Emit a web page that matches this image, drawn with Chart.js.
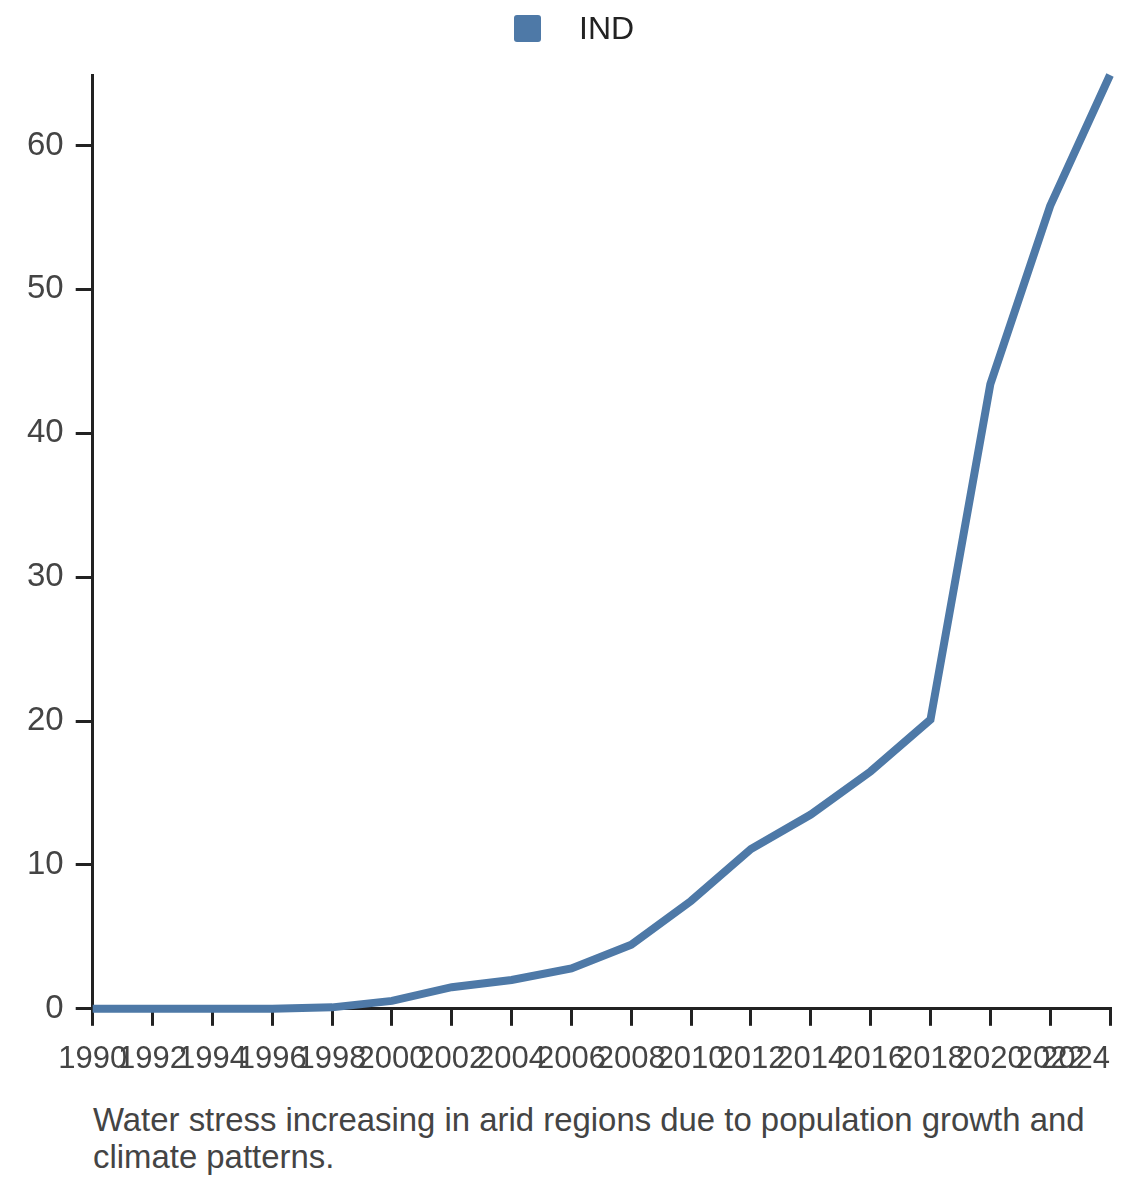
<!DOCTYPE html>
<html>
<head>
<meta charset="utf-8">
<script src="https://cdn.jsdelivr.net/npm/chart.js@4.4.1/dist/chart.umd.min.js"></script>
<style>
  html, body { margin: 0; padding: 0; background: #fff; }
  #wrap { position: relative; width: 1140px; height: 1182px; font-family: "Liberation Sans", Arial, sans-serif; }
  #box { position: absolute; left: 0; top: 0; width: 1140px; height: 1093px; }
  #legend { position: absolute; left: 514px; top: 10px; height: 36px; display: flex; align-items: center; }
  #legend .sw { width: 27px; height: 27px; border-radius: 3px; background: #4e79a7; margin-right: 38px; }
  #legend .tx { font-size: 32px; color: #222; line-height: 36px; }
  #caption {
    position: absolute; left: 93px; top: 1101px; width: 1040px;
    font-size: 32.9px; line-height: 37px; color: #444;
  }
</style>
</head>
<body>
<div id="wrap">
  <div id="box"><canvas id="lineChart"></canvas></div>
  <div id="legend"><span class="sw"></span><span class="tx" id="legend-text"></span></div>
  <div id="caption">Water stress increasing in arid regions due to population growth and climate patterns.</div>
</div>
<script>
// ── data ──
const seriesName = 'IND';
const years  = ['1990','1992','1994','1996','1998','2000','2002','2004','2006','2008',
                '2010','2012','2014','2016','2018','2020','2022','2024'];
const indVal = [0, 0, 0, 0, 0.1, 0.55, 1.5, 2.0, 2.8, 4.45,
                7.5, 11.1, 13.5, 16.5, 20.1, 43.4, 55.8, 64.9];
const yTicks = [0, 10, 20, 30, 40, 50, 60];

const BLUE = '#4e79a7';
const AXIS = '#222';
const TICK = '#444';
const FONT = '"Liberation Sans", Arial, sans-serif';

document.getElementById('legend-text').textContent = seriesName;

const ctx = document.getElementById('lineChart').getContext('2d');
new Chart(ctx, {
  type: 'line',
  data: {
    labels: years,
    datasets: [{
      label: seriesName,
      data: indVal,
      borderColor: BLUE,
      backgroundColor: BLUE,
      borderWidth: 8,
      pointRadius: 0,
      tension: 0,
      clip: false,
    }]
  },
  options: {
    responsive: true,
    maintainAspectRatio: false,
    animation: false,
    layout: { padding: { left: 15, right: 30, top: 75, bottom: 0 } },
    plugins: {
      legend: { display: false },
      tooltip: { enabled: false },
    },
    scales: {
      x: {
        z: 1,   // axis drawn over the line, as in the reference
        offset: false,
        border: { color: AXIS, width: 3 },
        grid: { drawOnChartArea: false, color: AXIS, lineWidth: 3, tickLength: 17 },
        // the last year sits flush left of its tick, like the reference
        afterFit: axis => { axis.paddingRight = 0; },
        ticks: {
          color: TICK, font: { family: FONT, size: 31 },
          maxRotation: 0, minRotation: 0, autoSkip: false, padding: 15,
          callback: (v, i) => i === years.length - 1 ? years[i] + '        ' : years[i],
        }
      },
      y: {
        z: 1,
        min: 0,
        max: Math.max(...indVal),
        border: { color: AXIS, width: 3 },
        grid: { drawOnChartArea: false, color: AXIS, lineWidth: 3, tickLength: 17 },
        afterBuildTicks: axis => { axis.ticks = yTicks.map(v => ({ value: v })); },
        ticks: { color: TICK, font: { family: FONT, size: 33 }, padding: 12 }
      }
    }
  }
});
</script>
</body>
</html>
